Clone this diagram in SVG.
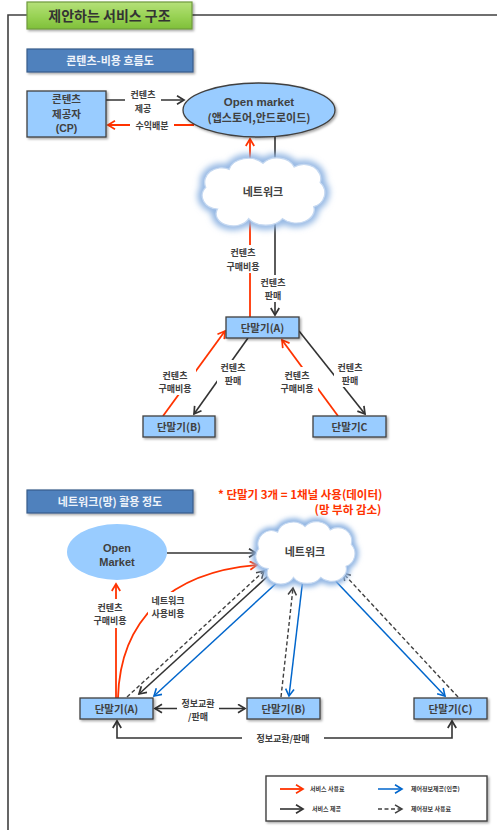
<svg xmlns="http://www.w3.org/2000/svg" width="497" height="830" viewBox="0 0 497 830">
<style>
text{font-family:"Noto Sans CJK KR","Liberation Sans",sans-serif;font-weight:bold;fill:#404040}
.lat{font-family:"Liberation Sans",Arial,sans-serif}
.lbl{font-size:9px;text-anchor:middle}
.box{fill:#99ccff;stroke:#404040;stroke-width:1.3;filter:url(#sh)}
.bt{font-size:10.5px;text-anchor:middle}
.r{stroke:#ff3300;stroke-width:1.8;fill:none;marker-end:url(#mr)}
.k{stroke:#333;stroke-width:1.6;fill:none;marker-end:url(#mk)}
.b{stroke:#0066cc;stroke-width:1.5;fill:none;marker-end:url(#mb)}
.d{stroke:#404040;stroke-width:1.4;fill:none;stroke-dasharray:4 2.5;marker-end:url(#md)}
.wb{fill:#fff}
.cloudglow{fill:#fff;stroke:#8db3e2;stroke-width:7;filter:url(#blur)}
.cloud{fill:#fff;stroke:#c6d9f1;stroke-width:1}
.hdr{fill:#4f81bd;stroke:#385d8a;stroke-width:1.2;filter:url(#sh)}
.ht{font-size:11px;fill:#eef3fa;text-anchor:middle}
.lg{font-size:6px;fill:#333}
</style>
<defs>
<linearGradient id="gg" x1="0" y1="0" x2="0" y2="1">
<stop offset="0" stop-color="#b5e07a"/><stop offset="0.5" stop-color="#9ad356"/><stop offset="1" stop-color="#7fbf3a"/>
</linearGradient>
<filter id="sh" x="-10%" y="-10%" width="130%" height="140%"><feDropShadow dx="1.5" dy="1.5" stdDeviation="0.8" flood-color="#000" flood-opacity="0.35"/></filter>
<filter id="blur" x="-20%" y="-30%" width="140%" height="160%"><feGaussianBlur stdDeviation="2.5"/></filter>
<marker id="mr" markerUnits="userSpaceOnUse" markerWidth="12" markerHeight="12" refX="8" refY="5" orient="auto-start-reverse"><path d="M1,0.8 L8,5 L1,9.2" fill="none" stroke="#ff3300" stroke-width="1.7"/></marker>
<marker id="mk" markerUnits="userSpaceOnUse" markerWidth="12" markerHeight="12" refX="8" refY="5" orient="auto-start-reverse"><path d="M1,0.8 L8,5 L1,9.2" fill="none" stroke="#333" stroke-width="1.7"/></marker>
<marker id="mb" markerUnits="userSpaceOnUse" markerWidth="12" markerHeight="12" refX="8" refY="5" orient="auto-start-reverse"><path d="M1,0.8 L8,5 L1,9.2" fill="none" stroke="#0066cc" stroke-width="1.6"/></marker>
<marker id="md" markerUnits="userSpaceOnUse" markerWidth="12" markerHeight="12" refX="8" refY="5" orient="auto-start-reverse"><path d="M1,0.8 L8,5 L1,9.2" fill="none" stroke="#404040" stroke-width="1.5"/></marker>
<path id="cl" d="M-35,15 A12,11 0 0 1 -44,-3 A13,12 0 0 1 -26,-18 A15,12 0 0 1 0,-23 A14,12 0 0 1 24,-20 A13,12 0 0 1 44,-7 A12,12 0 0 1 39,13 A14,11 0 0 1 15,23 A15,11 0 0 1 -11,23 A13,10 0 0 1 -35,15 Z"/>
</defs>

<g id="frame">
<path d="M8,830 L8,15 L27,15 M192,15 L497,15" fill="none" stroke="#404040" stroke-width="1.6"/>
</g>
<g id="title">
<rect x="27" y="2" width="165" height="27" fill="url(#gg)" stroke="#6f9a3c" stroke-width="1.2" filter="url(#sh)"/>
<text x="109.5" y="21" font-size="14" text-anchor="middle" style="fill:#333">제안하는 서비스 구조</text>
</g>

<g id="header1">
<rect class="hdr" x="27" y="49" width="166" height="23"/>
<text class="ht" x="110" y="64.5">콘텐츠-비용 흐름도</text>
</g>

<g id="connectors1">
<line class="k" x1="106" y1="100" x2="184" y2="100"/>
<line class="r" x1="194" y1="125" x2="108" y2="125"/>
<line class="r" x1="250" y1="317" x2="250" y2="139"/>
<line class="k" x1="275" y1="137" x2="275" y2="315"/>
<line class="r" x1="163" y1="416" x2="225" y2="331"/>
<line class="k" x1="248" y1="338" x2="194" y2="414"/>
<line class="r" x1="338" y1="416" x2="282" y2="340"/>
<line class="k" x1="299" y1="331" x2="365" y2="414"/>
</g>

<g id="cp">
<rect class="box" x="27" y="91" width="79" height="46"/>
<text class="bt" x="66.5" y="102.5" font-size="10">콘텐츠</text>
<text class="bt" x="66.5" y="117.5" font-size="10">제공자</text>
<text class="bt lat" x="66.5" y="132" font-size="11">(CP)</text>
</g>
<g id="openmarket1">
<ellipse cx="259" cy="110" rx="76" ry="27" fill="#99ccff" stroke="#404040" stroke-width="1.3" filter="url(#sh)"/>
<text class="lat" x="259" y="106" font-size="11.5" text-anchor="middle">Open  market</text>
<text x="259" y="121.5" font-size="11" text-anchor="middle">(앱스토어,안드로이드)</text>
</g>
<g id="network1">
<use href="#cl" class="cloudglow" transform="translate(263,191) scale(1.3,1.2)"/>
<use href="#cl" class="cloud" transform="translate(263,191) scale(1.3,1.2)"/>
<text x="263" y="196" font-size="11" text-anchor="middle">네트워크</text>
</g>

<g id="labels1">
<rect class="wb" x="125" y="89" width="36" height="26"/>
<text class="lbl" x="143" y="98">컨텐츠</text><text class="lbl" x="143" y="111.5">제공</text>
<rect class="wb" x="130" y="119" width="44" height="13"/>
<text class="lbl" x="152" y="128.5">수익배분</text>
<rect class="wb" x="223" y="245" width="41" height="28"/>
<text class="lbl" x="243" y="256">컨텐츠</text><text class="lbl" x="243" y="269.5">구매비용</text>
<rect class="wb" x="257" y="275" width="32" height="27"/>
<text class="lbl" x="273" y="285.5">컨텐츠</text><text class="lbl" x="273" y="299">판매</text>
<rect class="wb" x="155" y="367" width="41" height="28"/>
<text class="lbl" x="175" y="378.5">컨텐츠</text><text class="lbl" x="175" y="392">구매비용</text>
<rect class="wb" x="217" y="360" width="32" height="27"/>
<text class="lbl" x="233" y="370.5">컨텐츠</text><text class="lbl" x="233" y="384">판매</text>
<rect class="wb" x="277" y="367" width="41" height="28"/>
<text class="lbl" x="297" y="378.5">컨텐츠</text><text class="lbl" x="297" y="392">구매비용</text>
<rect class="wb" x="334" y="360" width="32" height="27"/>
<text class="lbl" x="350" y="370.5">컨텐츠</text><text class="lbl" x="350" y="384">판매</text>
</g>

<g id="termA1"><rect class="box" x="226" y="317" width="73" height="21"/><text class="bt" x="262.5" y="331.5">단말기(A)</text></g>
<g id="termB1"><rect class="box" x="143" y="416" width="72" height="21"/><text class="bt" x="179" y="430.5">단말기(B)</text></g>
<g id="termC1"><rect class="box" x="313" y="416" width="73" height="21"/><text class="bt" x="349.5" y="430.5">단말기C</text></g>

<g id="header2">
<rect class="hdr" x="27" y="490" width="166" height="23"/>
<text class="ht" x="110" y="505.5">네트워크(망) 활용 정도</text>
</g>
<g id="note">
<text x="218" y="499" font-size="11.5" style="fill:#ff3300">* 단말기 3개 =  1채널 사용(데이터)</text>
<text x="348" y="514" font-size="11.5" text-anchor="middle" style="fill:#ff3300">(망 부하 감소)</text>
</g>

<g id="connectors2">
<line class="k" x1="167" y1="553" x2="256" y2="553"/>
<line class="r" x1="116" y1="698" x2="116" y2="584"/>
<path class="r" d="M118,698 C120,620 170,572 257,565"/>
<line class="d" x1="127" y1="697" x2="264" y2="571"/>
<line class="k" x1="268" y1="576" x2="139" y2="694"/>
<line class="b" x1="282" y1="578" x2="154" y2="696"/>
<line class="d" x1="281" y1="697" x2="293" y2="588"/>
<line class="b" x1="303" y1="578" x2="289" y2="696"/>
<line class="b" x1="327" y1="572" x2="445" y2="696"/>
<line class="d" x1="458" y1="697" x2="343" y2="573"/>
<line class="k" x1="155" y1="708.5" x2="245" y2="708.5" style="marker-start:url(#mk)"/>
<path class="k" d="M117,721 L117,738 L452,738 L452,721" style="marker-start:url(#mk)"/>
</g>

<g id="openmarket2">
<ellipse cx="117" cy="552" rx="50" ry="28" fill="#99ccff"/>
<text class="lat" x="117" y="552" font-size="11" text-anchor="middle">Open</text>
<text class="lat" x="117" y="565.5" font-size="11" text-anchor="middle">Market</text>
</g>
<g id="network2">
<use href="#cl" class="cloudglow" transform="translate(305,552) scale(1.05,1.1)"/>
<use href="#cl" class="cloud" transform="translate(305,552) scale(1.05,1.1)"/>
<text x="305" y="556" font-size="11" text-anchor="middle">네트워크</text>
</g>

<g id="labels2">
<rect class="wb" x="90" y="599" width="41" height="29"/>
<text class="lbl" x="110" y="610.5">컨텐츠</text><text class="lbl" x="110" y="624">구매비용</text>
<rect class="wb" x="148" y="592" width="41" height="29"/>
<text class="lbl" x="168" y="603.5">네트워크</text><text class="lbl" x="168" y="617">사용비용</text>
<rect class="wb" x="177" y="697" width="42" height="27"/>
<text class="lbl" x="198" y="706.5">정보교환</text><text class="lbl" x="198" y="720">/판매</text>
<rect class="wb" x="242" y="731" width="82" height="14"/>
<text class="lbl" x="283" y="741.5">정보교환/판매</text>
</g>

<g id="termA2"><rect class="box" x="80" y="698" width="73" height="21"/><text class="bt" x="116.5" y="712.5">단말기(A)</text></g>
<g id="termB2"><rect class="box" x="247" y="698" width="73" height="21"/><text class="bt" x="283.5" y="712.5">단말기(B)</text></g>
<g id="termC2"><rect class="box" x="414" y="698" width="73" height="21"/><text class="bt" x="450.5" y="712.5">단말기(C)</text></g>

<g id="legend">
<rect x="266" y="776" width="221" height="45" fill="#fff" stroke="#404040" stroke-width="1.4" filter="url(#sh)"/>
<line class="r" x1="280" y1="789" x2="303" y2="789"/>
<text class="lg" x="310" y="791">서비스 사용료</text>
<line class="b" x1="378" y1="789" x2="402" y2="789"/>
<text class="lg" x="411" y="791">제어정보제공(인증)</text>
<line class="k" x1="280" y1="809" x2="303" y2="809"/>
<text class="lg" x="312" y="811">서비스 제공</text>
<line class="d" x1="378" y1="809" x2="402" y2="809"/>
<text class="lg" x="411" y="811">제어정보 사용료</text>
</g>
</svg>
